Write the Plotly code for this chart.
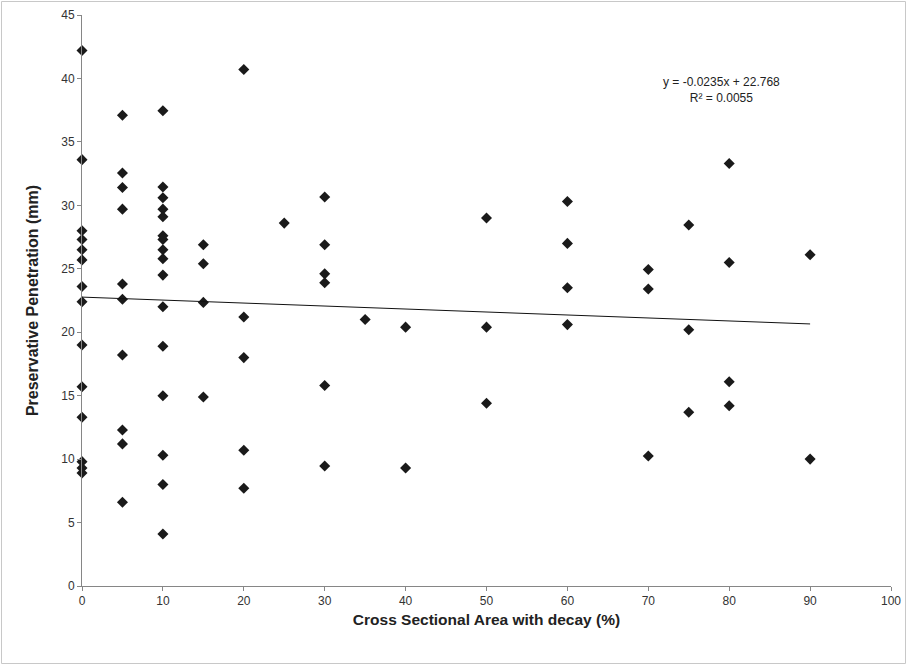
import plotly.graph_objects as go

# Data
decay_pct = (
    [0] * 14 + [5] * 10 + [10] * 16 + [15] * 4 + [20] * 5 + [25] * 1 +
    [30] * 6 + [35] * 1 + [40] * 2 + [50] * 3 + [60] * 4 + [70] * 3 +
    [75] * 3 + [80] * 4 + [90] * 2
)
penetration = [
    42.2, 33.6, 28.0, 27.3, 26.5, 25.7, 23.6, 22.4, 19.0, 15.7, 13.3, 9.8, 9.3, 8.9,
    37.1, 32.55, 31.4, 29.7, 23.8, 22.6, 18.2, 12.3, 11.2, 6.6,
    37.45, 31.45, 30.6, 29.7, 29.1, 27.6, 27.3, 26.5, 25.8, 24.5, 22.0, 18.9, 15.0, 10.3, 8.0, 4.1,
    26.9, 25.4, 22.35, 14.9,
    40.7, 21.2, 18.0, 10.7, 7.7,
    28.6,
    30.65, 26.9, 24.6, 23.9, 15.8, 9.45,
    21.0,
    20.4, 9.3,
    29.0, 20.4, 14.4,
    30.3, 27.0, 23.5, 20.6,
    24.95, 23.4, 10.25,
    28.45, 20.2, 13.7,
    33.3, 25.5, 16.1, 14.2,
    26.1, 10.0,
]

# Trendline coefficients as printed on the chart
slope = -0.0235
intercept = 22.768
r_squared = 0.0055
trend_x = [0, 90]
trend_y = [slope * v + intercept for v in trend_x]

x_ticks = list(range(0, 101, 10))
y_ticks = list(range(0, 46, 5))

W, H = 907, 664
ml, mr, mt, mb = 82, 16, 15, 78
pw, ph = W - ml - mr, H - mt - mb

fig = go.Figure()
fig.add_trace(go.Scatter(
    x=decay_pct, y=penetration, mode="markers",
    marker=dict(symbol="diamond", size=8.5, color="#1a1a1a", line=dict(width=0)),
    showlegend=False, hoverinfo="x+y", cliponaxis=False,
))
fig.add_trace(go.Scatter(
    x=trend_x, y=trend_y, mode="lines",
    line=dict(color="#111111", width=1),
    showlegend=False, hoverinfo="skip", cliponaxis=False,
))

axis_common = dict(
    showgrid=False, zeroline=False, showline=True, linecolor="#868686", linewidth=1,
    ticks="outside", ticklen=4, tickcolor="#868686", tickwidth=1, automargin=False,
)

fig.update_xaxes(
    range=[0, 100], tickvals=x_ticks, ticktext=[str(v) for v in x_ticks],
    tickfont=dict(family="Liberation Sans Narrow, Arial Narrow, Liberation Sans, Arial", size=12, color="#333333"),
    title=dict(text="<b>Cross Sectional Area with decay (%)</b>",
               font=dict(family="Liberation Sans Narrow, Arial Narrow, Liberation Sans, Arial", size=15.5, color="#222222"),
               standoff=6),
    **axis_common,
)
fig.update_yaxes(
    range=[0, 45], tickvals=y_ticks, ticktext=[str(v) for v in y_ticks],
    tickfont=dict(family="Liberation Sans, Arial", size=12, color="#333333"),
    title=dict(text="<b>Preservative Penetration (mm)</b>",
               font=dict(family="Liberation Sans, Arial", size=16, color="#222222"),
               standoff=18),
    **axis_common,
)

fig.add_annotation(
    x=79.1, y=39.1, xref="x", yref="y", showarrow=False,
    text=f"y = {slope}x + {intercept}<br>R² = {r_squared}",
    font=dict(family="Liberation Sans, Arial", size=12, color="#222222"),
    align="center",
)

# outer chart-area border
def px_to_paper_x(px):
    return (px - ml) / pw

def px_to_paper_y(py):
    return 1 - (py - mt) / ph

fig.add_shape(
    type="rect", xref="paper", yref="paper",
    x0=px_to_paper_x(1.5), x1=px_to_paper_x(905.5),
    y0=px_to_paper_y(663.5), y1=px_to_paper_y(1.5),
    line=dict(color="#c8c8c8", width=1), fillcolor="rgba(0,0,0,0)", layer="below",
)

fig.update_layout(
    width=W, height=H,
    margin=dict(l=ml, r=mr, t=mt, b=mb),
    paper_bgcolor="white", plot_bgcolor="white",
    font=dict(family="Liberation Sans, Arial"),
)

fig.write_html(
    "out.html",
    config={"displayModeBar": False},
    post_script="document.body.style.margin='0';document.body.style.overflow='hidden';",
)
